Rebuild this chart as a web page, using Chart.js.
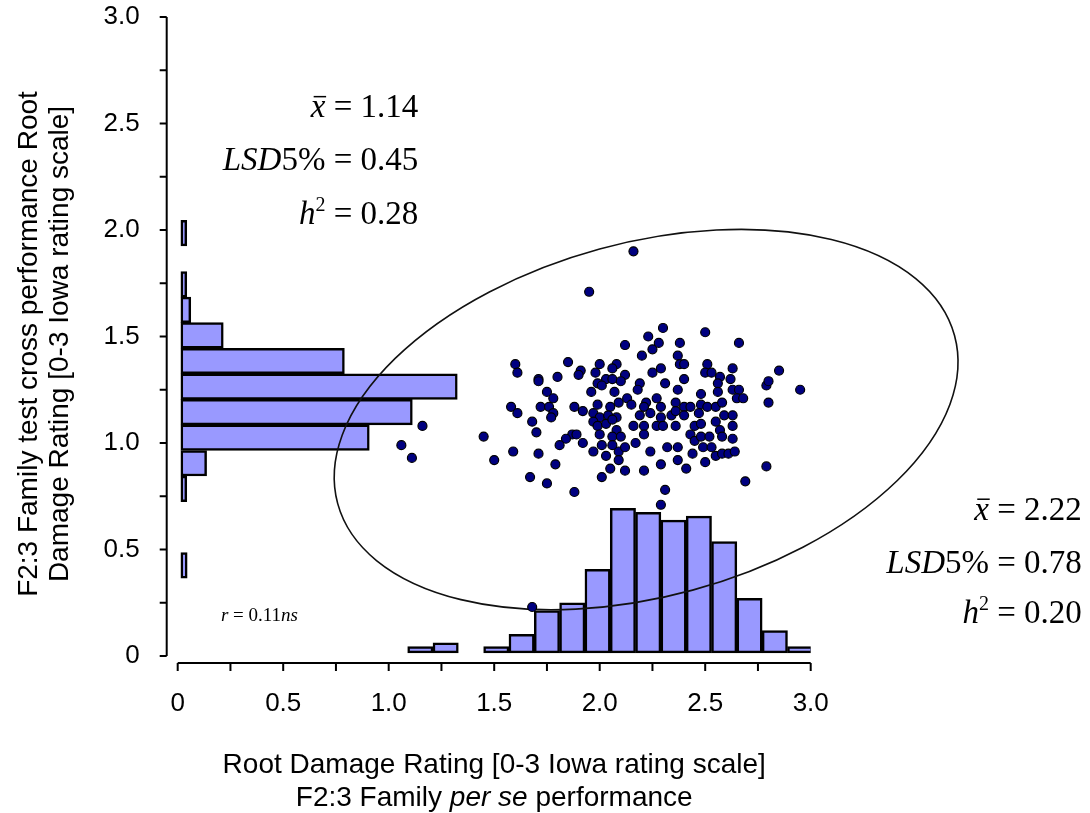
<!DOCTYPE html>
<html>
<head>
<meta charset="utf-8">
<script src="https://cdn.jsdelivr.net/npm/chart.js@4.4.0/dist/chart.umd.min.js"></script>
<style>
  html, body { margin: 0; padding: 0; background: #fff; }
</style>
</head>
<body>
<canvas id="chart" width="1090" height="813"></canvas>
<script>
// axis tick labels (every 0.5, minor ticks every 0.25)
const tickLabels = ['0', '0.5', '1.0', '1.5', '2.0', '2.5', '3.0'];

// per se histogram (bottom), bins of 0.12
const perSeBins = [1.15, 1.27, 1.51, 1.63, 1.75, 1.87, 1.99, 2.11, 2.23, 2.35, 2.47, 2.59, 2.71, 2.83, 2.95];
const perSeFreq = [0.044, 0.062, 0.044, 0.102, 0.213, 0.250, 0.407, 0.693, 0.675, 0.638, 0.657, 0.537, 0.271, 0.119, 0.044];

// test cross histogram (left side), bins of 0.12
const testCrossBins = [0.425, 0.785, 0.905, 1.025, 1.145, 1.265, 1.385, 1.505, 1.625, 1.745, 1.985];
const testCrossFreq = [0.045, 0.043, 0.137, 0.908, 1.112, 1.325, 0.790, 0.216, 0.062, 0.043, 0.043];
const histBase = 0.015;

// F2:3 families: per se rating (x) vs test cross rating (y)
const perSe = [
  2.16, 1.95, 1.16, 1.06, 1.11, 1.68, 2.29, 2.12, 1.60, 1.61,
  1.85, 2.00, 2.08, 1.91, 1.90, 1.98, 1.71, 1.71, 1.80, 2.06,
  2.12, 2.03, 1.99, 2.06, 2.10, 2.01, 1.96, 2.07, 1.75, 1.78,
  1.58, 1.61, 1.72, 1.76, 1.78, 1.77, 1.88, 1.92, 1.99, 2.05,
  2.09, 2.13, 1.97, 2.00, 2.04, 2.08, 1.97, 1.99, 2.03, 2.06,
  2.08, 1.68, 1.70, 1.45, 1.87, 1.89, 1.84, 1.81, 1.92, 2.00,
  2.06, 2.10, 2.01, 2.03, 1.97, 2.06, 2.09, 2.12, 1.59, 1.71,
  1.50, 1.79, 2.09, 2.12, 2.05, 2.01, 1.67, 1.75, 1.88,
  2.30, 2.50, 2.23, 2.28, 2.38, 2.66, 2.25, 2.20, 2.37, 2.38,
  2.40, 2.51, 2.50, 2.53, 2.63, 2.85, 2.25, 2.29, 2.40, 2.57,
  2.62, 2.31, 2.56, 2.79, 2.80, 2.95, 2.19, 2.18, 2.37, 2.48,
  2.56, 2.63, 2.66, 2.65, 2.68, 2.80, 2.27, 2.22, 2.15, 2.21,
  2.29, 2.36, 2.40, 2.43, 2.48, 2.51, 2.55, 2.58, 2.19, 2.24,
  2.29, 2.34, 2.36, 2.40, 2.47, 2.59, 2.63, 2.16, 2.21, 2.27,
  2.30, 2.36, 2.45, 2.48, 2.55, 2.57, 2.63, 2.21, 2.17, 2.24,
  2.43, 2.45, 2.48, 2.52, 2.58, 2.63, 2.32, 2.37, 2.44, 2.49,
  2.53, 2.55, 2.58, 2.61, 2.64, 2.37, 2.29, 2.21, 2.41, 2.50,
  2.79, 2.69, 2.31
];
const testCross = [
  1.90, 1.71, 1.08, 0.99, 0.93, 0.23, 0.71, 1.46, 1.37, 1.33,
  1.38, 1.37, 1.37, 1.34, 1.32, 1.33, 1.30, 1.29, 1.31, 1.35,
  1.32, 1.30, 1.28, 1.30, 1.29, 1.27, 1.24, 1.24, 1.24, 1.21,
  1.17, 1.14, 1.17, 1.17, 1.14, 1.12, 1.17, 1.15, 1.18, 1.17,
  1.19, 1.21, 1.14, 1.12, 1.13, 1.12, 1.10, 1.08, 1.09, 1.11,
  1.06, 1.10, 1.05, 1.03, 1.04, 1.04, 1.02, 0.99, 1.00, 1.04,
  1.03, 1.03, 0.99, 0.94, 0.96, 0.99, 0.96, 0.98, 0.96, 0.95,
  0.92, 0.90, 0.92, 0.87, 0.88, 0.84, 0.84, 0.81, 0.77,
  1.54, 1.52, 1.50, 1.47, 1.47, 1.47, 1.44, 1.41, 1.41, 1.37,
  1.37, 1.37, 1.33, 1.33, 1.35, 1.34, 1.33, 1.35, 1.30, 1.31,
  1.30, 1.28, 1.28, 1.27, 1.29, 1.25, 1.28, 1.25, 1.25, 1.23,
  1.24, 1.25, 1.25, 1.21, 1.21, 1.19, 1.21, 1.19, 1.18, 1.17,
  1.17, 1.19, 1.17, 1.17, 1.18, 1.17, 1.17, 1.19, 1.13, 1.14,
  1.12, 1.13, 1.15, 1.13, 1.14, 1.13, 1.13, 1.08, 1.08, 1.08,
  1.08, 1.08, 1.08, 1.09, 1.10, 1.06, 1.08, 1.04, 1.00, 0.96,
  1.04, 1.01, 1.03, 1.03, 1.03, 1.02, 0.98, 0.98, 0.95, 0.98,
  0.98, 0.94, 0.95, 0.95, 0.96, 0.92, 0.90, 0.87, 0.88, 0.91,
  0.89, 0.82, 0.78
];

// summary statistics printed on the chart
const testCrossStats = ['1.14', '0.45', '0.28'];
const perSeStats = ['2.22', '0.78', '0.20'];
const corrStat = ['0.11', 'ns'];

// confidence ellipse (data units, tilt in degrees)
const ellipse = { cx: 2.22, cy: 1.11, a: 1.515, b: 0.83, tilt: 15.25 };

const SANS = '"Liberation Sans", Arial, sans-serif';
const SERIF = '"Liberation Serif", "Times New Roman", serif';

function tickText(v) {
  const k = Math.round(v * 2);
  return Math.abs(v * 2 - k) < 1e-6 ? tickLabels[k] : '';
}

// draws a line of mixed upright / italic / superscript text
function drawRich(ctx, parts, x, y, align, size, family) {
  const fontOf = p => (p.italic ? 'italic ' : '') + (p.sup ? Math.round(size * 0.62) : size) + 'px ' + family;
  let total = 0;
  const widths = parts.map(p => {
    ctx.font = fontOf(p);
    const w = ctx.measureText(p.text).width;
    total += w;
    return w;
  });
  let cx = align === 'right' ? x - total : align === 'center' ? x - total / 2 : x;
  ctx.textAlign = 'left';
  parts.forEach((p, i) => {
    ctx.font = fontOf(p);
    ctx.fillText(p.text, cx, p.sup ? y - size * 0.38 : y);
    if (p.bar) {
      ctx.beginPath();
      ctx.lineWidth = 1.5;
      ctx.moveTo(cx + widths[i] * 0.2, y - size * 0.62);
      ctx.lineTo(cx + widths[i] * 1.05, y - size * 0.62);
      ctx.stroke();
    }
    cx += widths[i];
  });
}

function statLines(vals) {
  return [
    [{ text: 'x', italic: true, bar: true }, { text: ' = ' + vals[0] }],
    [{ text: 'LSD', italic: true }, { text: '5% = ' + vals[1] }],
    [{ text: 'h', italic: true }, { text: '2', sup: true }, { text: ' = ' + vals[2] }]
  ];
}

const extras = {
  id: 'extras',
  beforeDatasetDraw(chart, args) {
    if (args.index !== 0) return;
    // ellipse goes over the histograms but under the points
    const { ctx, scales: { x, y } } = chart;
    const px = x.getPixelForValue(ellipse.cx);
    const py = y.getPixelForValue(ellipse.cy);
    const rx = x.getPixelForValue(ellipse.cx + ellipse.a) - px;
    const ry = py - y.getPixelForValue(ellipse.cy + ellipse.b);
    ctx.save();
    ctx.strokeStyle = '#111';
    ctx.lineWidth = 1.6;
    ctx.beginPath();
    ctx.ellipse(px, py, rx, ry, -ellipse.tilt * Math.PI / 180, 0, Math.PI * 2);
    ctx.stroke();
    ctx.restore();
  },
  afterDraw(chart) {
    const { ctx, chartArea: area, scales: { x, y } } = chart;
    ctx.save();
    ctx.strokeStyle = '#000';
    ctx.fillStyle = '#000';
    ctx.lineWidth = 2;

    // axes are offset a little from the plot area
    const yAxisX = area.left - 11;
    const xAxisY = area.bottom + 7;
    ctx.beginPath();
    ctx.moveTo(yAxisX, y.getPixelForValue(3));
    ctx.lineTo(yAxisX, y.getPixelForValue(0));
    y.ticks.forEach(t => {
      const p = y.getPixelForValue(t.value);
      ctx.moveTo(yAxisX - 7, p);
      ctx.lineTo(yAxisX, p);
    });
    ctx.moveTo(x.getPixelForValue(0), xAxisY);
    ctx.lineTo(x.getPixelForValue(3), xAxisY);
    x.ticks.forEach(t => {
      const p = x.getPixelForValue(t.value);
      ctx.moveTo(p, xAxisY);
      ctx.lineTo(p, xAxisY + 8);
    });
    ctx.stroke();

    // axis titles
    ctx.textBaseline = 'alphabetic';
    const midX = (area.left + area.right) / 2;
    drawRich(ctx, [{ text: 'Root Damage Rating [0-3 Iowa rating scale]' }], midX, 773, 'center', 28, SANS);
    drawRich(ctx, [{ text: 'F2:3 Family ' }, { text: 'per se', italic: true }, { text: ' performance' }], midX, 806, 'center', 28, SANS);

    ctx.save();
    ctx.translate(37, 344);
    ctx.rotate(-Math.PI / 2);
    drawRich(ctx, [{ text: 'F2:3 Family test cross performance Root' }], 0, 0, 'center', 28, SANS);
    drawRich(ctx, [{ text: 'Damage Rating [0-3 Iowa rating scale]' }], 0, 31, 'center', 28, SANS);
    ctx.restore();

    // statistics
    const upper = statLines(testCrossStats);
    const upperY = [2.53, 2.28, 2.03];
    upper.forEach((parts, i) => drawRich(ctx, parts, x.getPixelForValue(1.14), y.getPixelForValue(upperY[i]), 'right', 33, SERIF));
    const lower = statLines(perSeStats);
    const lowerY = [0.64, 0.39, 0.155];
    lower.forEach((parts, i) => drawRich(ctx, parts, x.getPixelForValue(4.285), y.getPixelForValue(lowerY[i]), 'right', 33, SERIF));
    drawRich(ctx, [{ text: 'r', italic: true }, { text: ' = ' + corrStat[0] }, { text: corrStat[1], italic: true }],
      x.getPixelForValue(0.205), y.getPixelForValue(0.165), 'left', 19, SERIF);
    ctx.restore();
  }
};

const axisFont = { family: SANS, size: 26 };
// invisible tick marks give the label offset without inflating the layout padding
const hiddenGrid = len => ({ display: true, drawOnChartArea: false, drawTicks: true, tickLength: len, color: 'rgba(0,0,0,0)' });
const histStyle = {
  type: 'bar',
  backgroundColor: '#9999ff',
  borderColor: '#000',
  borderWidth: 2.5,
  borderSkipped: false,
  barPercentage: 1,
  categoryPercentage: 1,
  grouped: false,
  base: histBase
};

new Chart(document.getElementById('chart'), {
  type: 'scatter',
  data: {
    datasets: [
      {
        label: 'F2:3 families',
        data: perSe.map((v, i) => ({ x: v, y: testCross[i] })),
        backgroundColor: '#000080',
        borderColor: '#000',
        borderWidth: 1.2,
        pointRadius: 4.5,
        xAxisID: 'x',
        yAxisID: 'y'
      },
      Object.assign({}, histStyle, {
        label: 'per se',
        data: perSeBins.map((v, i) => ({ x: v, y: perSeFreq[i] })),
        xAxisID: 'x',
        yAxisID: 'y2'
      }),
      Object.assign({}, histStyle, {
        label: 'test cross',
        indexAxis: 'y',
        data: testCrossBins.map((v, i) => ({ x: testCrossFreq[i], y: v })),
        xAxisID: 'x2',
        yAxisID: 'y'
      })
    ]
  },
  options: {
    responsive: false,
    animation: false,
    events: [],
    layout: { autoPadding: false, padding: { left: 0, right: 279.3, top: 17, bottom: 0 } },
    plugins: { legend: { display: false }, tooltip: { enabled: false } },
    scales: {
      x: {
        type: 'linear', position: 'bottom', min: 0, max: 3, offset: false,
        grid: hiddenGrid(32), border: { display: false },
        ticks: { stepSize: 0.25, autoSkip: false, maxRotation: 0, padding: 0, color: '#000', font: axisFont, callback: tickText },
        afterFit: s => { s.height = 157; }
      },
      y: {
        type: 'linear', position: 'left', min: 0, max: 3, offset: false,
        grid: hiddenGrid(38), border: { display: false },
        ticks: { stepSize: 0.25, autoSkip: false, padding: 0, color: '#000', font: axisFont, callback: tickText },
        afterFit: s => { s.width = 177.7; }
      },
      x2: { type: 'linear', min: 0, max: 3, offset: false, display: false },
      y2: { type: 'linear', min: 0, max: 3, offset: false, display: false }
    }
  },
  plugins: [extras]
});
</script>
</body>
</html>
